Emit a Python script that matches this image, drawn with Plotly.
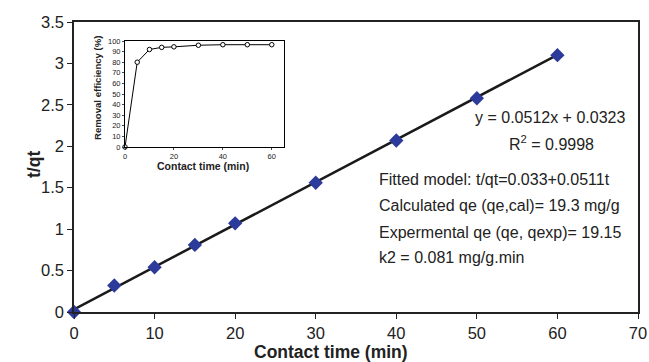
import plotly.graph_objects as go

# Main data: pseudo-second-order plot
time_min = [0, 5, 10, 15, 20, 30, 40, 50, 60]
t_over_qt = [0, 0.32, 0.54, 0.81, 1.07, 1.56, 2.07, 2.58, 3.10]
fit_slope = 0.0512
fit_intercept = 0.0323

# Inset data: removal efficiency
inset_time = [0, 5, 10, 15, 20, 30, 40, 50, 60]
removal_eff = [0, 80, 92, 94, 94.5, 96, 96.5, 96.5, 96.5]

x_ticks = [0, 10, 20, 30, 40, 50, 60, 70]
y_ticks = [0, 0.5, 1, 1.5, 2, 2.5, 3, 3.5]
y_tick_labels = ["0", "0.5", "1", "1.5", "2", "2.5", "3", "3.5"]

fit_x = [time_min[0], time_min[-1]]
fit_y = [fit_slope * x + fit_intercept for x in fit_x]

font = "Liberation Sans, Arial, sans-serif"

L, R, T, B = 74, 638, 22, 312
W, H = 649, 362
PW, PH = R - L, B - T


def px(xp):
    return (xp - L) / PW


def py(yp):
    return (B - yp) / PH


fig = go.Figure()
fig.add_trace(go.Scatter(x=fit_x, y=fit_y, mode="lines",
                         line=dict(color="#1a1a1a", width=2.5), showlegend=False,
                         cliponaxis=False))
fig.add_trace(go.Scatter(x=time_min, y=t_over_qt, mode="markers",
                         marker=dict(symbol="diamond", size=11, color="#2b3a9b"),
                         showlegend=False, cliponaxis=False))
fig.add_trace(go.Scatter(x=inset_time, y=removal_eff, mode="lines+markers",
                         xaxis="x2", yaxis="y2",
                         line=dict(color="#000000", width=1),
                         marker=dict(symbol="circle", size=4.5, color="white",
                                     line=dict(color="#000000", width=1)),
                         showlegend=False, cliponaxis=False))

axis_line = dict(showline=True, linecolor="#222222", linewidth=1.5, showgrid=False,
                 zeroline=False, ticks="outside", ticklen=5, tickcolor="#222222",
                 mirror=True, automargin=False)

fig.update_layout(
    width=W, height=H,
    margin=dict(l=L, r=W - R, t=T, b=H - B),
    plot_bgcolor="white", paper_bgcolor="white",
    font=dict(family=font, color="#222222", size=16),
    xaxis=dict(range=[0, 70], tickvals=x_ticks, domain=[0, 1],
               tickfont=dict(size=16.5), **axis_line),
    yaxis=dict(range=[0, 3.5], tickvals=y_ticks, ticktext=y_tick_labels, domain=[0, 1],
               tickfont=dict(size=16.5), **axis_line),
    xaxis2=dict(range=[0, 65], tickvals=[0, 20, 40, 60], domain=[px(125), px(284)],
                anchor="y2", showline=True, linecolor="#000000", linewidth=1, mirror=True,
                showgrid=False, zeroline=False, ticks="outside", ticklen=2,
                tickfont=dict(size=7.5), automargin=False),
    yaxis2=dict(range=[0, 100], dtick=10, domain=[py(147), py(41)],
                anchor="x2", showline=True, linecolor="#000000", linewidth=1, mirror=True,
                showgrid=False, zeroline=False, ticks="outside", ticklen=2,
                tickfont=dict(size=7.5), automargin=False),
)

fig.add_shape(type="rect", xref="x2 domain", yref="y2 domain", x0=0, x1=1, y0=0, y1=1,
              fillcolor="white", line=dict(width=0), layer="below")

# Axis titles
fig.add_annotation(x=px(331), y=py(352), xref="paper", yref="paper",
                   text="<b>Contact time (min)</b>", showarrow=False,
                   xanchor="center", yanchor="middle", font=dict(size=17.5))
fig.add_annotation(x=px(34), y=py(165), xref="paper", yref="paper",
                   text="<b>t/qt</b>", showarrow=False, textangle=-90,
                   xanchor="center", yanchor="middle", font=dict(size=17.5))
fig.add_annotation(x=px(203), y=py(166), xref="paper", yref="paper",
                   text="<b>Contact time (min)</b>", showarrow=False,
                   xanchor="center", yanchor="middle", font=dict(size=10.5))
fig.add_annotation(x=px(97), y=py(88), xref="paper", yref="paper",
                   text="<b>Removal efficiency (%)</b>", showarrow=False, textangle=-90,
                   xanchor="center", yanchor="middle", font=dict(size=9.6))

fig.add_annotation(x=px(627), y=py(117), xref="paper", yref="paper",
                   text="y = 0.0512x + 0.0323", showarrow=False,
                   xanchor="right", yanchor="middle", font=dict(size=16))
fig.add_annotation(x=px(551), y=py(143), xref="paper", yref="paper",
                   text="R<sup>2</sup> = 0.9998", showarrow=False,
                   xanchor="center", yanchor="middle", font=dict(size=16))

lines = ["Fitted model: t/qt=0.033+0.0511t",
         "Calculated qe (qe,cal)= 19.3 mg/g",
         "Expermental qe (qe, qexp)= 19.15",
         "k2 = 0.081 mg/g.min"]
ys = [179, 205, 232, 257]
for txt, yp in zip(lines, ys):
    fig.add_annotation(x=px(377), y=py(yp), xref="paper", yref="paper",
                       text=txt, showarrow=False, xanchor="left", yanchor="middle",
                       font=dict(size=16))

fig.write_html("out.html", config={"displayModeBar": False},
               post_script="document.body.style.margin='0';document.body.style.overflow='hidden';")
